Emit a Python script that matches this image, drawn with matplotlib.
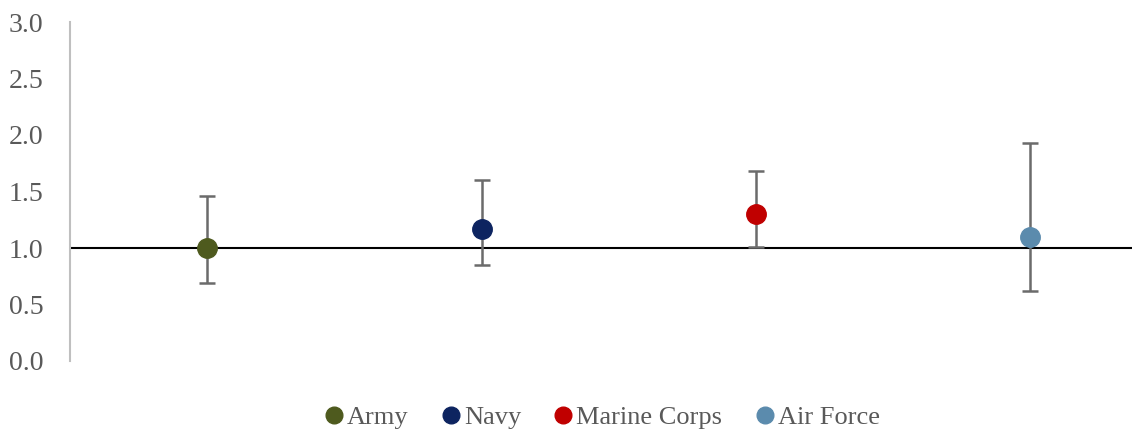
import matplotlib
matplotlib.use("Agg")
import matplotlib.pyplot as plt
from matplotlib.lines import Line2D

categories = ["Army", "Navy", "Marine Corps", "Air Force"]
estimates = [1.00, 1.17, 1.30, 1.10]
lower = [0.69, 0.85, 1.01, 0.62]
upper = [1.46, 1.60, 1.68, 1.93]
colors = ["#4e5a1e", "#0d2460", "#c00000", "#5b8bad"]
yticks = [0.0, 0.5, 1.0, 1.5, 2.0, 2.5, 3.0]

plt.rcParams['font.family'] = ['Liberation Serif', 'DejaVu Serif']

W, H = 1132, 434
fig = plt.figure(figsize=(W / 100, H / 100), dpi=100)
ax = fig.add_axes([70 / W, (H - 361) / H, (W - 70) / W, (361 - 22) / H])

ax.axhline(1.0, color="black", lw=1.5, zorder=1)

for i, (e, lo, hi, c) in enumerate(zip(estimates, lower, upper, colors)):
    ax.errorbar(i, e, yerr=[[e - lo], [hi - e]], fmt="none", ecolor="#6b6b6b",
                elinewidth=1.8, capsize=6, capthick=1.8, zorder=2)
    ax.plot(i, e, "o", color=c, markersize=14, zorder=3)

ax.set_xlim(-0.5, 3.37)
ax.set_ylim(0, 3.0)
ax.set_yticks(yticks)
ax.set_yticklabels([f"{v:.1f}" for v in yticks])
ax.set_xticks([])
for s in ["top", "right", "bottom"]:
    ax.spines[s].set_visible(False)
ax.spines["left"].set_color("#bfbfbf")
ax.spines["left"].set_linewidth(1.5)
ax.tick_params(axis="y", length=0, pad=19, labelsize=20, labelcolor="#595959")
for lab in ax.get_yticklabels():
    lab.set_horizontalalignment("right")

handles = [Line2D([], [], marker="o", ls="none", color=c, markersize=12) for c in colors]
fig.legend(handles, categories, loc="center", bbox_to_anchor=(0.529, (H - 417) / H),
           ncol=4, frameon=False, fontsize=19, labelcolor="#595959",
           handletextpad=-0.1, columnspacing=1.0, handlelength=1.2)

fig.savefig("out.png", dpi=100)
